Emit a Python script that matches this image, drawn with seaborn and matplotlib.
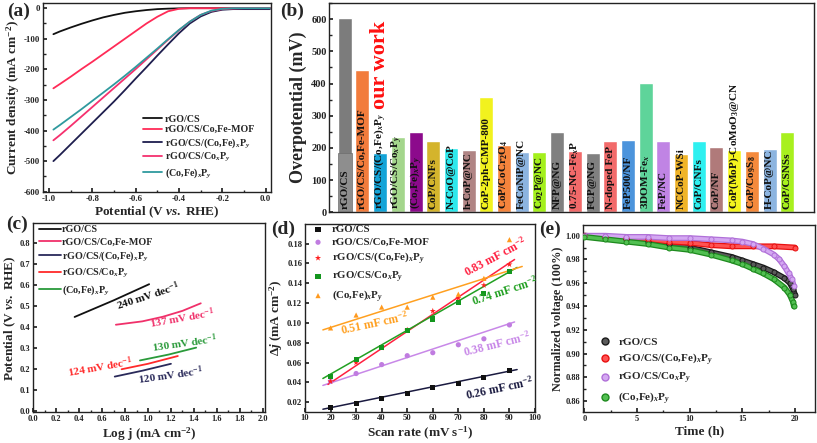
import numpy as np
import pandas as pd
import seaborn as sns
import matplotlib.pyplot as plt
from matplotlib.lines import Line2D
from matplotlib.ticker import MultipleLocator, FuncFormatter

# (a) polarization curves
lsv_potential = [-0.98, -0.95, -0.90, -0.85, -0.80, -0.75, -0.70, -0.65, -0.60, -0.55, -0.50,
                 -0.45, -0.40, -0.35, -0.30, -0.25, -0.20, -0.15, -0.10, -0.05, 0.00, 0.02]
lsv_rgo_cs = [-85, -76, -63, -51, -40, -30, -22, -15, -10, -6, -3,
              -1.5, -0.5, 0, 0, 0, 0, 0, 0, 0, 0, 0]
lsv_mof = [-262, -248, -224, -199, -175, -150, -125, -100, -75, -50, -28,
           -10, -2, 0, 0, 0, 0, 0, 0, 0, 0, 0]
lsv_rgo_cofep = [-500, -480, -445, -410, -375, -340, -305, -268, -230, -193, -155,
                 -118, -82, -50, -27, -12, -5, -3, -3, -3, -3, -3]
lsv_rgo_coxpy = [-432, -415, -385, -354, -323, -292, -261, -230, -199, -167, -135,
                 -103, -72, -44, -22, -9, -3, -1, 0, 0, 0, 0]
lsv_cofep = [-397, -382, -356, -330, -303, -276, -249, -221, -192, -162, -132,
             -101, -71, -44, -22, -8, -2, 0, 0, 0, 0, 0]

series_names = ["rGO/CS", "rGO/CS/Co,Fe-MOF", "rGO/CS/(Co,Fe)$_x$P$_y$",
                "rGO/CS/Co$_x$P$_y$", "(Co,Fe)$_x$P$_y$"]

# (b) overpotential comparison
bar_names = ["rGO/CS", "rGO/CS/Co,Fe-MOF", "rGO/CS/(Co,Fe)$_x$P$_y$", "rGO/CS/Co$_x$P$_y$",
             "(Co,Fe)$_x$P$_y$", "CoP/CNFs", "N-CoO@CoP", "h-CoP@NC", "CoP-2ph-CMP-800",
             "CoP/CoCr$_2$O$_4$", "FeCoNiP@NC", "Co$_2$P@NC", "NFP@NG", "0.75-NC-Fe$_x$P",
             "FCP@NG", "N-doped FeP", "FeP500/NF", "3DOM-Fe$_x$", "FeP/NC", "NCCoP-WSi",
             "CoP/CNFs", "CoP/NF", "CoP(MoP)-CoMoO$_3$@CN", "CoP/Co$_9$S$_8$", "H-CoP@NC",
             "CoP/CSNSs"]
bar_values = [605, 443, 183, 234, 249, 222, 200, 193, 358, 210, 186, 188, 248, 191,
              185, 222, 226, 402, 220, 181, 223, 203, 195, 191, 197, 249]
bar_colors = ["#7c7c7c", "#f27c3c", "#14a4d8", "#a4d68c", "#8c0a8c", "#d4b42c", "#2ee8ec",
              "#b08484", "#f2f21e", "#f5843c", "#8cb4e0", "#a4f01c", "#808080", "#f26a6a",
              "#808080", "#f26a6a", "#4c94dc", "#5ed49a", "#c084e4", "#f0b428", "#2ef0f0",
              "#b07a7a", "#f5f51e", "#f58a3c", "#8cb4e0", "#a8f01e"]

# (c) Tafel plots
tafel_x = [[0.36, 0.70, 1.01], [0.72, 0.95, 1.13, 1.30, 1.46], [0.71, 0.95, 1.20],
           [0.77, 1.00, 1.26], [0.93, 1.18, 1.42]]
tafel_y = [[0.449, 0.528, 0.605], [0.412, 0.428, 0.450, 0.478, 0.514], [0.165, 0.193, 0.226],
           [0.200, 0.226, 0.263], [0.242, 0.270, 0.303]]
tafel_slopes = ["240 mV dec$^{-1}$", "137 mV dec$^{-1}$", "120 mV dec$^{-1}$",
                "124 mV dec$^{-1}$", "130 mV dec$^{-1}$"]

# (d) double-layer capacitance
scan_rate = [20, 30, 40, 50, 60, 70, 80, 90]
dj_rgo_cs = [0.015, 0.019, 0.024, 0.029, 0.035, 0.039, 0.045, 0.052]
dj_mof = [0.041, 0.049, 0.058, 0.067, 0.070, 0.078, 0.084, 0.098]
dj_rgo_cofep = [0.041, 0.060, 0.075, 0.093, 0.112, 0.125, 0.138, 0.159]
dj_rgo_coxpy = [0.046, 0.063, 0.075, 0.092, 0.104, 0.121, 0.130, 0.152]
dj_cofep = [0.095, 0.108, 0.116, 0.116, 0.126, 0.129, 0.145, 0.184]
fit_x = [[17, 93], [17, 92], [19, 92], [17, 93], [17, 95]]
fit_y = [[0.013, 0.053], [0.037, 0.101], [0.038, 0.164], [0.044, 0.156], [0.093, 0.157]]
cdl_labels = ["0.26 mF cm$^{-2}$", "0.38 mF cm$^{-2}$", "0.83 mF cm$^{-2}$",
              "0.74 mF cm$^{-2}$", "0.51 mF cm$^{-2}$"]

# (e) stability
stab_names = ["rGO/CS", "rGO/CS/(Co,Fe)$_x$P$_y$", "rGO/CS/Co$_x$P$_y$", "(Co,Fe)$_x$P$_y$"]
stab_t_rgo = [0, 2, 4, 6, 8, 10, 12, 14, 15, 16, 17, 18, 19, 19.5, 19.8, 20.0]
stab_rgo = [1.000, 0.999, 0.997, 0.995, 0.993, 0.990, 0.986, 0.982, 0.979, 0.976, 0.973,
            0.969, 0.964, 0.960, 0.955, 0.950]
stab_t_comp = [0, 2, 4, 6, 8, 10, 12, 14, 16, 18, 20]
stab_comp = [1.000, 0.999, 0.998, 0.997, 0.995, 0.994, 0.992, 0.991, 0.991, 0.991, 0.990]
stab_t_coxpy = [0, 2, 4, 6, 8, 10, 12, 14, 15, 16, 17, 18, 18.5, 19, 19.4, 19.7, 19.9]
stab_coxpy = [1.000, 1.000, 0.999, 0.999, 0.998, 0.998, 0.997, 0.996, 0.995, 0.993, 0.989,
              0.984, 0.980, 0.974, 0.968, 0.963, 0.957]
stab_t_cofep = [0, 2, 4, 6, 8, 10, 12, 14, 15, 16, 17, 18, 19, 19.5, 19.8, 19.9]
stab_cofep = [0.999, 0.997, 0.995, 0.993, 0.990, 0.988, 0.984, 0.979, 0.976, 0.972, 0.968,
              0.963, 0.956, 0.950, 0.944, 0.940]

sns.set_theme(style="ticks")
plt.rcParams["font.family"] = ["Liberation Serif", "DejaVu Serif"]
plt.rcParams.update({
    "font.weight": "bold",
    "axes.labelweight": "bold",
    "axes.unicode_minus": False,
    "mathtext.fontset": "custom",
    "mathtext.rm": "Liberation Serif:bold",
    "mathtext.it": "Liberation Serif:italic:bold",
    "mathtext.bf": "Liberation Serif:bold",
    "axes.linewidth": 1.0,
    "axes.edgecolor": "#222222",
    "xtick.direction": "in",
    "ytick.direction": "in",
    "xtick.major.size": 3,
    "ytick.major.size": 3,
    "xtick.minor.size": 1.8,
    "ytick.minor.size": 1.8,
    "xtick.major.pad": 2,
    "ytick.major.pad": 2,
    "xtick.color": "#222222",
    "ytick.color": "#222222",
    "axes.labelpad": 1.5,
})

W, H = 817, 443
fig = plt.figure(figsize=(W / 100, H / 100), dpi=100)


def px_axes(left, top, right, bottom):
    return fig.add_axes([left / W, 1 - bottom / H, (right - left) / W, (bottom - top) / H])


def fmt(n):
    return FuncFormatter(lambda v, p: ("%." + str(n) + "f") % (0.0 if abs(v) < 1e-9 else v))


def ticks(ax, xmaj, xmin, ymaj, ymin, size):
    ax.xaxis.set_major_locator(MultipleLocator(xmaj))
    ax.yaxis.set_major_locator(MultipleLocator(ymaj))
    if xmin:
        ax.xaxis.set_minor_locator(MultipleLocator(xmin))
    if ymin:
        ax.yaxis.set_minor_locator(MultipleLocator(ymin))
    ax.tick_params(which="both", top=False, right=False, labelsize=size)


# ---------- (a)
axa = px_axes(43, 3, 271, 192)
lsv_colors = ["#111111", "#ff2b57", "#1e1e4e", "#f5306e", "#2f9a9e"]
for ys, name, c in zip([lsv_rgo_cs, lsv_mof, lsv_rgo_cofep, lsv_rgo_coxpy, lsv_cofep],
                       series_names, lsv_colors):
    sns.lineplot(x=lsv_potential, y=ys, color=c, lw=1.3, label=name, ax=axa)
axa.set_xlim(-1.028, 0.025)
axa.set_ylim(-601, 17)
ticks(axa, 0.2, 0.1, 100, 50, 6.3)
axa.xaxis.set_major_formatter(fmt(1))
axa.set_xlabel(r"Potential (V $\mathit{vs.}$ RHE)", fontsize=9.5)
axa.set_ylabel("Current density (mA cm$^{-2}$)", fontsize=9.5)
axa.legend(loc="upper left", bbox_to_anchor=(0.44, 0.41), frameon=False, fontsize=7.2,
           handlelength=1.9, handletextpad=0.25, labelspacing=0.15, borderpad=0, borderaxespad=0)

# ---------- (b)
axb = px_axes(329.3, 2.7, 814, 212.3)
bar_df = pd.DataFrame({"key": [str(i) for i in range(len(bar_values))], "value": bar_values})
sns.barplot(data=bar_df, x="key", y="value", hue="key", palette=bar_colors, legend=False,
            saturation=1, width=0.79, ax=axb)
axb.bar(0, bar_values[2], width=0.79, color="#8e8e8e", edgecolor="#6e6e6e", lw=0.5)
for i, name in enumerate(bar_names):
    axb.text(i, 10, name, rotation=90, ha="center", va="bottom", fontsize=8.1,
             fontweight="bold", color="#111111")
axb.text(2, 457, "our work", rotation=90, ha="center", va="center", fontsize=16,
         fontweight="bold", color="#ff1010")
axb.set_xlim(-0.87, 26.51)
axb.set_ylim(0, 651)
axb.yaxis.set_major_locator(MultipleLocator(100))
axb.yaxis.set_minor_locator(MultipleLocator(50))
axb.tick_params(axis="y", which="both", right=False, labelsize=7.5)
axb.set_xticks([])
axb.set_xlabel("")
axb.set_ylabel("Overpotential (mV)", fontsize=13, labelpad=3)

# ---------- (c)
axc = px_axes(33.3, 223.3, 265, 412.3)
tafel_colors = ["#111111", "#f0306a", "#2a2a5a", "#ff2a2a", "#2a9a3a"]
for xs, ys, name, c in zip(tafel_x, tafel_y, series_names, tafel_colors):
    sns.lineplot(x=xs, y=ys, color=c, lw=1.3, label=name, sort=False, ax=axc)
slope_pos = [(1.00, 0.548, 18), (1.30, 0.443, 10), (1.20, 0.172, 8),
             (0.58, 0.212, 10), (1.32, 0.325, 8)]
for (x, y, r), txt, c in zip(slope_pos, tafel_slopes, tafel_colors):
    axc.text(x, y, txt, rotation=r, ha="center", va="center", fontsize=8, color=c,
             fontweight="bold")
axc.set_xlim(0, 2.02)
axc.set_ylim(-0.005, 0.895)
ticks(axc, 0.2, 0.1, 0.1, None, 6)
axc.xaxis.set_major_formatter(fmt(1))
axc.yaxis.set_major_formatter(fmt(1))
axc.set_xlabel("Log j (mA cm$^{-2}$)", fontsize=9.5)
axc.set_ylabel(r"Potential (V $\mathit{vs.}$ RHE)", fontsize=9.5)
axc.legend(loc="upper left", bbox_to_anchor=(0.026, 0.99), frameon=False, fontsize=7.3,
           handlelength=2.1, handletextpad=0.15, labelspacing=0.3, borderpad=0, borderaxespad=0)

# ---------- (d)
axd = px_axes(305, 224.3, 535, 411.7)
dj_sets = [dj_rgo_cs, dj_mof, dj_rgo_cofep, dj_rgo_coxpy, dj_cofep]
dj_markers = ["s", "o", "*", "s", "^"]
dj_colors = ["#111111", "#c07ce0", "#ff2020", "#14961e", "#ff9a1e"]
fit_colors = ["#1a1a40", "#c888e8", "#ff2040", "#22a022", "#ffa020"]
for xs, ys, c in zip(fit_x, fit_y, fit_colors):
    sns.lineplot(x=xs, y=ys, color=c, lw=1.1, ax=axd)
for ys, name, m, c in zip(dj_sets, series_names, dj_markers, dj_colors):
    sns.scatterplot(x=scan_rate, y=ys, marker=m, color=c, s=22 if m == "*" else 14,
                    edgecolor="none", label=name, ax=axd, zorder=3)
cdl_pos = [(86, 0.034, 12), (85, 0.079, 14), (84.5, 0.167, 28), (88, 0.132, 18),
           (37, 0.100, 12)]
for (x, y, r), txt, c in zip(cdl_pos, cdl_labels, fit_colors):
    axd.text(x, y, txt, rotation=r, ha="center", va="center", fontsize=8.5, color=c,
             fontweight="bold")
axd.set_xlim(10, 100)
axd.set_ylim(0.0105, 0.1995)
ticks(axd, 10, None, 0.02, None, 6.2)
axd.yaxis.set_major_formatter(fmt(2))
axd.set_xlabel("Scan rate (mV s$^{-1}$)", fontsize=9.5)
axd.set_ylabel(r"Δ$\mathit{j}$ (mA cm$^{-2}$)", fontsize=9.5)
axd.legend(loc="upper left", bbox_to_anchor=(0.033, 0.998), frameon=False, fontsize=7.8,
           handlelength=1.0, handletextpad=0.75, labelspacing=0.3, borderpad=0, borderaxespad=0)

# ---------- (e)
axe = px_axes(583.3, 225, 815, 412.3)
stab_sets = [(stab_t_rgo, stab_rgo), (stab_t_comp, stab_comp),
             (stab_t_coxpy, stab_coxpy), (stab_t_cofep, stab_cofep)]
stab_edge = ["#1a1a1a", "#e81010", "#b070d8", "#1e8a1e"]
stab_face = ["#5a5a5a", "#ff5252", "#d4a8f2", "#52c052"]
for (ts, vs), ec, fc in zip(stab_sets, stab_edge, stab_face):
    sns.lineplot(x=ts, y=vs, color=ec, lw=4.2, ax=axe)
    sns.lineplot(x=ts, y=vs, color=fc, lw=2.4, ax=axe)
    sns.scatterplot(x=ts, y=vs, color=fc, edgecolor=ec, linewidth=0.7, s=13, ax=axe,
                    zorder=3)
axe.set_xlim(-0.1, 21.9)
axe.set_ylim(0.8502, 1.0091)
ticks(axe, 5, 2.5, 0.02, 0.01, 6)
axe.yaxis.set_major_formatter(fmt(2))
axe.set_xlabel("Time (h)", fontsize=9.5)
axe.set_ylabel("Normalized voltage (100%)", fontsize=8.8)
handles = [Line2D([], [], ls="none", marker="o", ms=5, mfc=fc, mec=ec, mew=1)
           for ec, fc in zip(stab_edge, stab_face)]
axe.legend(handles, stab_names, loc="upper left", bbox_to_anchor=(0.07, 0.40), frameon=False,
           fontsize=8, handlelength=1.0, handletextpad=0.7, labelspacing=0.35, borderpad=0,
           borderaxespad=0)

# panel letters
for lbl, x, y in [("(a)", 7, 3), ("(b)", 280, 3), ("(c)", 6, 216), ("(d)", 271, 221),
                  ("(e)", 539, 221)]:
    fig.text(x / W, 1 - y / H, lbl, ha="left", va="top", fontsize=14, fontweight="bold")

fig.savefig("out.png", dpi=100)
